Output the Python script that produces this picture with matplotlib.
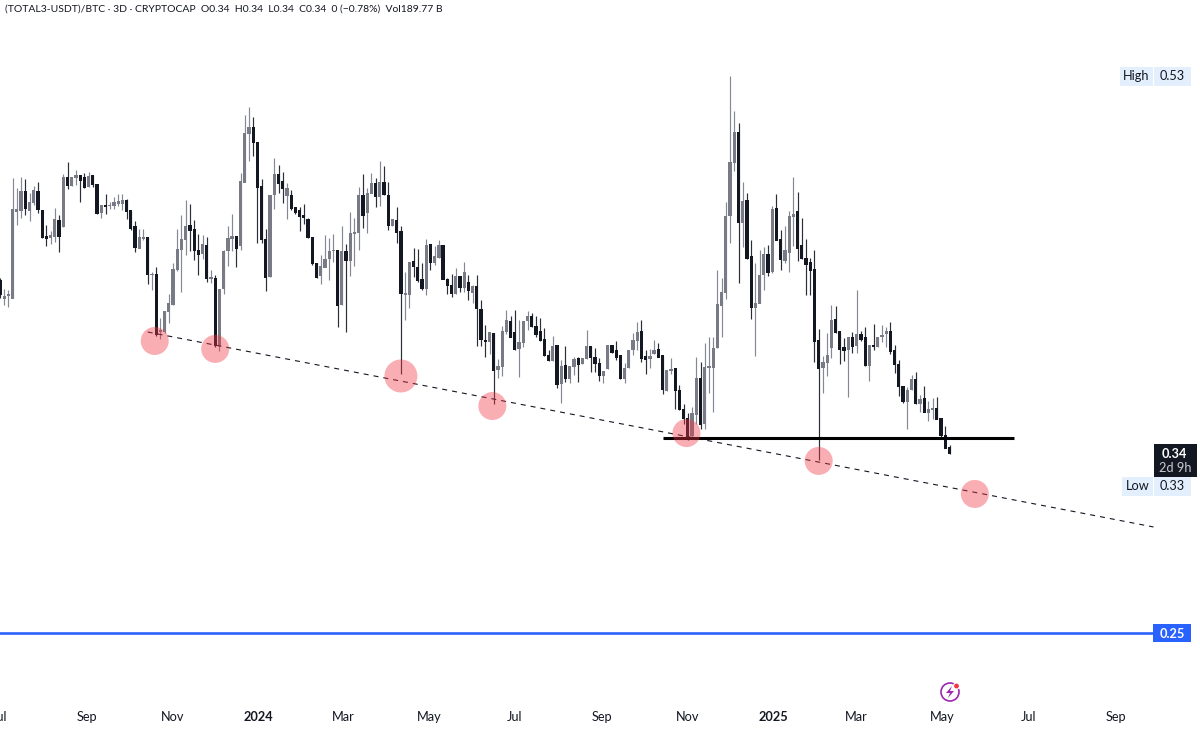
import numpy as np
import pandas as pd
import matplotlib
matplotlib.use("Agg")
import matplotlib.pyplot as plt
import matplotlib.dates as mdates
from matplotlib.patches import Rectangle, Circle, Polygon

# 3D candles
opens = [
    .4271, .4182, .4196, .4182, .4620, .4623, .4722, .4623, .4665, .4722,
    .4623, .4493, .4489, .4493, .4576, .4543, .4791, .4749, .4789, .4798,
    .4791, .4744, .4798, .4754, .4615, .4652, .4647, .4647, .4660, .4657,
    .4677, .4623, .4546, .4434, .4483, .4488, .4300, .4305, .4015, .4015,
    .4115, .4149, .4325, .4425, .4476, .4551, .4529, .4425, .4405, .4446,
    .4280, .4283, .3943, .4229, .4420, .4481, .4493, .4447, .4766, .5012,
    .5041, .4965, .4744, .4481, .4291, .4702, .4803, .4772, .4700, .4702,
    .4640, .4622, .4598, .4581, .4491, .4358, .4296, .4338, .4380, .4420,
    .4425, .4149, .4417, .4372, .4509, .4512, .4702, .4613, .4710, .4760,
    .4693, .4765, .4702, .4546, .4576, .4517, .4201, .4199, .4367, .4340,
    .4278, .4229, .4454, .4362, .4388, .4450, .4278, .4249, .4207, .4291,
    .4237, .4261, .4211, .4241, .4129, .3973, .3964, .4006, .3825, .3839,
    .4013, .4065, .4010, .3929, .3959, .4068, .4093, .4040, .4018, .3976,
    .3897, .3869, .3944, .3755, .3847, .3780, .3839, .3879, .3855, .3880,
    .3939, .3886, .3855, .3792, .3828, .3948, .3920, .3893, .3777, .3834,
    .3923, .3970, .4015, .3890, .3878, .3903, .3926, .3893, .3719, .3819,
    .3828, .3720, .3624, .3579, .3491, .3600, .3780, .3553, .3833, .3833,
    .3936, .4148, .4212, .4596, .4867, .5017, .4562, .4673, .4391, .4135,
    .4157, .4303, .4405, .4319, .4634, .4480, .4371, .4413, .4593, .4621,
    .4450, .4383, .4361, .4329, .3969, .3833, .3858, .3936, .4078, .4014,
    .3934, .3925, .3986, .3947, .4003, .3986, .3842, .3947, .3942, .3989,
    .4003, .4018, .3922, .3852, .3741, .3662, .3724, .3776, .3651, .3679,
    .3610, .3624, .3630, .3579, .3495, .3431,
]
highs = [
    .4283, .4229, .4224, .4786, .4736, .4791, .4781, .4710, .4749, .4766,
    .4623, .4551, .4523, .4635, .4601, .4808, .4866, .4791, .4828, .4798,
    .4811, .4819, .4803, .4754, .4652, .4707, .4669, .4690, .4705, .4705,
    .4680, .4623, .4571, .4529, .4529, .4488, .4313, .4342, .4082, .4119,
    .4203, .4358, .4529, .4601, .4677, .4657, .4576, .4504, .4501, .4493,
    .4325, .4300, .4229, .4425, .4546, .4607, .4493, .4811, .5104, .5143,
    .5096, .4970, .4781, .4531, .4702, .4886, .4853, .4816, .4761, .4727,
    .4640, .4640, .4656, .4584, .4491, .4358, .4400, .4501, .4484, .4504,
    .4425, .4546, .4455, .4615, .4584, .4744, .4807, .4735, .4811, .4786,
    .4874, .4848, .4765, .4581, .4640, .4546, .4313, .4367, .4437, .4429,
    .4358, .4480, .4454, .4445, .4475, .4450, .4283, .4303, .4333, .4296,
    .4367, .4299, .4249, .4299, .4174, .4048, .4015, .4006, .3877, .4045,
    .4124, .4095, .4124, .4073, .4070, .4120, .4110, .4095, .4082, .4035,
    .3922, .3993, .3944, .3872, .3943, .3839, .3889, .3889, .3880, .4023,
    .3943, .3931, .3880, .3814, .3948, .3948, .3970, .3893, .3856, .3923,
    .4007, .4065, .4071, .3923, .3928, .3973, .3960, .3893, .3819, .3884,
    .3828, .3747, .3651, .3604, .3637, .3889, .3860, .3956, .3986, .3986,
    .4324, .4283, .4668, .5300, .5124, .5062, .4769, .4710, .4475, .4358,
    .4425, .4442, .4450, .4646, .4705, .4526, .4547, .4623, .4794, .4718,
    .4584, .4479, .4383, .4425, .4026, .3892, .4006, .4148, .4143, .4014,
    .3984, .3986, .4014, .4224, .4018, .4039, .3946, .4053, .3989, .4048,
    .4036, .4065, .3947, .3872, .3741, .3738, .3796, .3813, .3696, .3741,
    .3666, .3682, .3688, .3579, .3540, .3445,
]
lows = [
    .4182, .4149, .4137, .4182, .4551, .4585, .4601, .4573, .4652, .4613,
    .4484, .4447, .4456, .4467, .4417, .4543, .4731, .4747, .4752, .4669,
    .4736, .4741, .4741, .4607, .4588, .4607, .4630, .4630, .4647, .4627,
    .4581, .4526, .4417, .4434, .4476, .4255, .4224, .3995, .3976, .4007,
    .4057, .4149, .4322, .4213, .4400, .4422, .4375, .4300, .4379, .4266,
    .4258, .3939, .3919, .4204, .4347, .4422, .4338, .4425, .4766, .4873,
    .4900, .4459, .4459, .4221, .4291, .4632, .4710, .4660, .4581, .4627,
    .4607, .4521, .4556, .4487, .4350, .4284, .4254, .4338, .4274, .4367,
    .4040, .4149, .4015, .4294, .4345, .4425, .4534, .4509, .4710, .4640,
    .4646, .4702, .4526, .4546, .4462, .3802, .4073, .4132, .4291, .4266,
    .4224, .4199, .4325, .4350, .4383, .4278, .4202, .4187, .4204, .4212,
    .4216, .4174, .4160, .3944, .3944, .3889, .3902, .3649, .3783, .3792,
    .4003, .3986, .3922, .3788, .3939, .4023, .4040, .3989, .3969, .3894,
    .3869, .3869, .3730, .3654, .3763, .3755, .3797, .3760, .3852, .3877,
    .3813, .3813, .3768, .3755, .3828, .3906, .3873, .3777, .3755, .3831,
    .3898, .3923, .3864, .3801, .3834, .3903, .3886, .3700, .3719, .3802,
    .3625, .3621, .3553, .3470, .3486, .3553, .3528, .3528, .3708, .3612,
    .3931, .3989, .4179, .4462, .4824, .4261, .4438, .4380, .4078, .3894,
    .4157, .4224, .4294, .4308, .4475, .4324, .4358, .4313, .4447, .4371,
    .4380, .4199, .4199, .3863, .3369, .3708, .3793, .3880, .4006, .3852,
    .3869, .3688, .3909, .3909, .3969, .3842, .3766, .3925, .3939, .3964,
    .3939, .3902, .3808, .3691, .3654, .3525, .3721, .3649, .3612, .3609,
    .3565, .3574, .3574, .3486, .3428, .3399,
]
closes = [
    .4199, .4194, .4203, .4627, .4627, .4719, .4635, .4665, .4727, .4627,
    .4489, .4484, .4498, .4580, .4493, .4791, .4749, .4791, .4798, .4774,
    .4741, .4794, .4752, .4610, .4652, .4645, .4652, .4665, .4669, .4674,
    .4618, .4531, .4437, .4488, .4491, .4300, .4303, .3998, .4023, .4119,
    .4157, .4330, .4429, .4479, .4546, .4523, .4422, .4404, .4451, .4283,
    .4286, .3943, .4229, .4420, .4484, .4493, .4431, .4769, .5012, .5041,
    .4965, .4739, .4479, .4286, .4702, .4803, .4761, .4732, .4736, .4635,
    .4613, .4593, .4586, .4489, .4355, .4288, .4345, .4380, .4420, .4425,
    .4145, .4420, .4372, .4509, .4514, .4702, .4598, .4710, .4760, .4693,
    .4765, .4702, .4546, .4581, .4514, .4204, .4207, .4362, .4341, .4271,
    .4231, .4450, .4362, .4392, .4449, .4278, .4246, .4207, .4294, .4236,
    .4311, .4221, .4244, .4129, .3973, .3964, .4010, .3818, .3839, .4018,
    .4070, .3986, .3927, .3961, .4067, .4093, .4040, .3998, .3969, .3894,
    .3869, .3943, .3751, .3839, .3778, .3839, .3875, .3850, .3880, .3939,
    .3886, .3855, .3792, .3814, .3948, .3910, .3886, .3777, .3831, .3923,
    .3970, .4012, .3881, .3873, .3890, .3923, .3886, .3722, .3819, .3826,
    .3717, .3621, .3579, .3473, .3604, .3780, .3550, .3835, .3838, .3931,
    .4152, .4212, .4593, .4866, .5017, .4562, .4668, .4383, .4135, .4157,
    .4299, .4405, .4314, .4629, .4475, .4375, .4422, .4593, .4606, .4433,
    .4380, .4354, .4324, .3967, .3827, .3860, .3897, .4070, .4011, .3927,
    .3922, .3986, .3942, .4003, .3977, .3842, .3946, .3942, .3986, .3998,
    .4018, .3914, .3847, .3738, .3661, .3721, .3776, .3654, .3674, .3609,
    .3624, .3630, .3574, .3490, .3428, .3403,
]

first_bar = "2023-07-01"
tick_dates = ["2023-07-01", "2023-09-01", "2023-11-01", "2024-01-01", "2024-03-01", "2024-05-01", "2024-07-01",
              "2024-09-01", "2024-11-01", "2025-01-01", "2025-03-01", "2025-05-01", "2025-07-01", "2025-09-01"]
tick_labels = ["Jul", "Sep", "Nov", "2024", "Mar", "May", "Jul", "Sep", "Nov", "2025", "Mar", "May", "Jul", "Sep"]

trend_dates = ["2023-10-14", "2025-09-28"]
trend_prices = [.4013, .3033]
support_dates = ["2024-10-14", "2025-06-21"]
support_prices = [.348, .348]
blue_dates = ["2023-01-01", "2025-09-28"]
blue_prices = [.25, .25]
touch_dates = ["2023-10-19", "2023-12-01", "2024-04-11", "2024-06-15", "2024-10-31", "2025-02-02", "2025-05-24"]
touch_prices = [.3968, .3928, .3792, .3641, .3505, .3365, .3199]
touch_px = [28, 28, 33, 28, 28, 28, 28]

W, H = 1200, 731
UP = "#787b86"
DOWN = "#131722"
plt.rcParams['font.family'] = ['Lato', 'DejaVu Sans']

fig = plt.figure(figsize=(W / 100, H / 100), dpi=100)
ax = fig.add_axes([0, 31 / H, 1, 700 / H])

dates = pd.date_range(first_bar, periods=len(opens), freq="3D")
x = mdates.date2num(dates)
o, h, l, c = map(np.array, (opens, highs, lows, closes))
colors = np.where(c >= o, UP, DOWN)

ax.vlines(x, l, h, colors=colors, linewidth=0.85, alpha=0.9, zorder=2)
ax.bar(x, np.abs(c - o) + 0.0004, bottom=np.minimum(o, c) - 0.0002, width=2.3, color=colors, linewidth=0, zorder=3)

ax.plot(pd.to_datetime(trend_dates), trend_prices, color="#131722", lw=0.8, dashes=(4.5, 4.5), zorder=4)
ax.plot(pd.to_datetime(support_dates), support_prices, color="black", lw=2.2, solid_capstyle="butt", zorder=4)
ax.plot(pd.to_datetime(blue_dates), blue_prices, color="#2962ff", lw=1.9, solid_capstyle="butt", zorder=4)
ax.scatter(pd.to_datetime(touch_dates), touch_prices, s=[(d * 0.72) ** 2 for d in touch_px],
           color="#f23645", alpha=0.4, linewidths=0, zorder=5)

ax.set_xlim(x[0], x[0] + W / 1.4067)
ax.set_ylim(0.25 - 67 * 0.0005027, 0.53 + 76 * 0.0005027)
ax.set_yticks([])
ax.set_xticks(mdates.date2num(pd.to_datetime(tick_dates)))
ax.set_xticklabels(tick_labels, fontsize=9.2, color="#131722")
ax.tick_params(axis="x", length=0, pad=8)
for lab, txt in zip(ax.get_xticklabels(), tick_labels):
    if txt.startswith("20"):
        lab.set_fontweight("bold")
for s in ax.spines.values():
    s.set_visible(False)

# header, price labels and the icon sit in pixel coordinates on top
ui = fig.add_axes([0, 0, 1, 1], facecolor="none")
ui.set_xlim(0, W)
ui.set_ylim(H, 0)
ui.axis("off")


def box(x0, y0, x1, y1, color):
    ui.add_patch(Rectangle((x0, y0), x1 - x0, y1 - y0, color=color, lw=0))


def label(xc, yc, s, color="#131722", **kw):
    ui.text(xc, yc, s, color=color, ha="center", va="center", fontsize=9.2, **kw)


ui.text(5, 9, "(TOTAL3-USDT)/BTC · 3D · CRYPTOCAP  O0.34  H0.34  L0.34  C0.34  0 (−0.78%)  Vol189.77 B",
        color="#131722", fontsize=7.5, va="center", ha="left")

box(1120, 67, 1153, 86, "#e3effd")
box(1154, 67, 1191, 86, "#e3effd")
label(1136.5, 76, "High")
label(1172.5, 76.5, "0.53")

box(1122, 477, 1153, 496, "#e3effd")
box(1154, 477, 1191, 496, "#e3effd")
label(1137.5, 486, "Low")
label(1172.5, 486.5, "0.33")

box(1154, 444, 1197, 477, "#131722")
label(1174, 454, "0.34", color="white", fontweight="bold")
label(1175, 468, "2d 9h", color="#c9cbd1")

box(1153, 624, 1191, 642, "#2962ff")
label(1172, 633.5, "0.25", color="white", fontweight="bold")

ui.add_patch(Circle((950, 692), 9, fill=False, ec="#9c27b0", lw=1.2))
ui.add_patch(Polygon([(952, 686), (946, 693), (950, 693), (948, 698), (954, 691), (950, 691)], color="#9c27b0", lw=0))
ui.add_patch(Circle((956.5, 686), 3.6, color="white", lw=0))
ui.add_patch(Circle((956.5, 686), 2.4, color="#f23645", lw=0))

fig.savefig("out.png", dpi=100)
